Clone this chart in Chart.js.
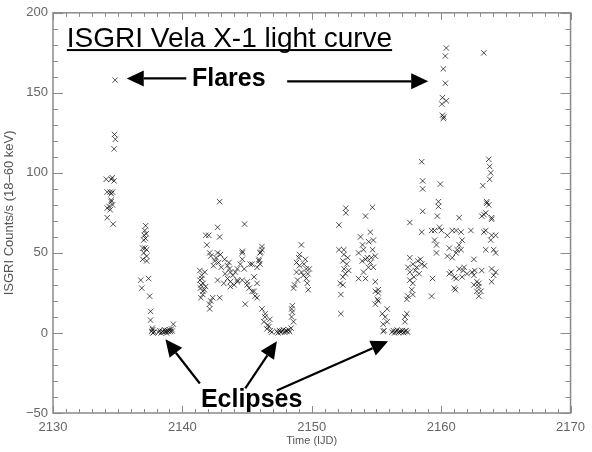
<!DOCTYPE html>
<html>
<head>
<meta charset="utf-8">
<script src="https://cdn.jsdelivr.net/npm/chart.js@4/dist/chart.umd.min.js"></script>
<style>
html,body{margin:0;padding:0;background:#fff;}
#c{display:block;}
</style>
</head>
<body>
<canvas id="c" width="592" height="452"></canvas>
<script>
// ---- Data ----
const times = [
  // flare 1
  2134.80,2134.75,2134.82,2134.72,2134.11,2134.57,2134.72,2134.50,2134.19,2134.42,2134.50,2134.60,
  2134.50,2134.60,2134.19,2134.34,2134.42,2134.19,2134.65,2134.50,
  // decline before eclipse 1
  2137.16,2137.10,2137.20,2137.05,2137.16,2137.01,2136.93,2137.24,2137.01,2137.24,2136.93,2137.24,2137.10,
  2136.78,2137.39,2136.86,2137.47,2137.54,2137.54,2137.62,2137.70,2137.80,2137.68,2137.72,
  // eclipse 1
  2138.15,2138.25,2138.35,2138.45,2138.55,2138.62,2138.70,2138.78,2138.85,2138.92,2139.00,2139.08,2139.15,2139.22,2139.30,
  // group 2141-2146
  2142.88,2142.72,2142.88,2144.80,2141.81,2142.04,2141.89,2142.11,2142.19,
  2141.35,2141.73,2141.35,2141.43,2141.58,2141.43,
  2142.72,2142.95,2143.26,2142.50,2143.49,2143.71,2142.72,2143.49,2143.71,2142.88,
  2144.25,2144.25,2144.63,2144.63,2144.78,2145.24,2145.54,2145.77,2145.01,2145.54,2145.62,
  2146.00,2146.15,2145.92,2146.00,2145.77,
  2144.63,2144.48,2143.64,2143.71,2144.25,2144.63,2145.01,2145.16,2145.39,2145.77,2145.39,2146.05,2146.15,2145.92,
  2144.86,2142.11,2142.19,2141.58,2142.34,2142.10,
  2141.50,2141.60,2141.40,2141.70,2141.50,2141.80,
  2143.00,2143.30,2143.90,2144.10,2143.60,2143.20,2144.00,
  2142.40,2142.60,2142.80,
  // ingress eclipse 2
  2146.15,2146.38,2146.30,2146.69,2146.76,2146.53,2146.40,2146.60,
  // eclipse 2
  2146.80,2146.90,2147.30,2147.40,2147.50,2147.60,2147.70,2147.80,2147.90,2148.00,2148.10,2148.20,2148.30,2148.40,
  // egress eclipse 2
  2148.44,2148.50,2148.44,2148.59,2148.50,
  // group 2149
  2149.20,2149.05,2148.82,2149.05,2149.58,2149.81,2148.82,2149.35,2149.58,2148.67,2149.73,2148.59,
  2149.00,2149.40,2149.65,2149.20,2149.50,2149.70,2148.90,
  // group 2152
  2152.10,2152.63,2152.63,2152.10,2152.48,2152.48,2152.40,2152.78,2152.86,2152.40,2152.40,2152.25,2152.25,
  2152.60,2152.70,2152.20,2152.50,
  // group 2154
  2154.15,2154.69,2154.53,2153.77,2153.92,2154.00,2154.76,2153.62,2154.15,2154.53,2154.76,2154.38,2154.91,
  2153.62,2154.15,2154.91,2154.91,2155.14,2153.90,2154.70,2154.30,2154.60,2154.00,2154.40,
  // ingress eclipse 3
  2155.14,2155.07,2155.14,2154.91,2155.83,2155.45,2155.68,2155.83,2155.52,2155.52,2155.60,
  // eclipse 3
  2156.20,2156.30,2156.40,2156.50,2156.60,2156.70,2156.80,2156.90,2157.00,2157.10,2157.20,2157.30,2157.40,
  2157.20,2157.20,2157.35,
  // group 2158
  2157.58,2158.57,2158.50,2157.58,2158.19,2157.81,2158.11,2158.50,2157.43,2157.58,2158.72,2159.33,
  2157.58,2157.81,2157.73,2157.81,2157.43,2157.35,2159.26,2158.50,2158.57,2158.57,2159.26,
  2158.00,2158.30,2157.90,2158.40,
  // flare 2
  2160.40,2160.32,2160.17,2160.32,2160.10,2160.40,2160.10,2160.17,2159.94,2159.79,2159.79,2159.71,
  2159.87,2159.49,2160.02,2159.64,2159.49,2159.64,2160.05,2160.20,
  // group 2161-2163
  2163.30,2161.39,2160.86,2161.16,2160.48,2161.54,2161.62,2162.30,2160.63,2161.39,2161.24,2161.54,
  2160.48,2160.86,2161.16,2162.53,2160.63,2161.01,2161.62,2161.39,2161.77,2162.38,2162.53,2162.76,
  2162.53,2162.91,2162.76,2162.91,2161.01,2161.10,2162.91,2163.07,2161.70,2162.00,2160.78,2161.16,
  2162.60,2163.14,
  // group 2164
  2163.68,2163.75,2163.83,2163.75,2163.22,2163.52,2163.68,2163.45,2163.14,2163.90,2163.30,2163.45,
  2163.30,2163.90,2164.21,2163.83,2163.45,2164.06,2164.21,2163.90,2164.21,2164.06,2163.90,2163.52,2163.90
];
const counts = [
  // flare 1
  158,124,121,115,96,97,95,96,88,88,87,88,
  82,80,78,79,77,72,68,83,
  // decline before eclipse 1
  67,64,62,61,59,58,53,52,50,48,46,45,53,
  33,34,28,23,13.5,8,1,2,0.5,3,0,
  // eclipse 1
  0.5,1.5,0,1,0.5,2,1,0,1.5,0.8,2,1,2.5,1.2,5.5,
  // group 2141-2146
  82,66,60,68,61,61,55,50,48,
  39,38,33,30,26,22,
  50,49,46,45,42,38,33,34,29,22,
  40,33,50,46,40,43,35,31,30,26,23,
  50,52,46,43,41,
  51,43,40,32,32,33,32,28,26,22,43,50.5,54,45,
  18,15,20,24,22,18,
  36,31,28,27,34,29,
  41,37,36,38,44,31,30,
  42,47,44,
  // ingress eclipse 2
  15,10,7,4,8.5,2.5,12,5,
  // eclipse 2
  1.5,0.5,1,0,1.5,0.5,1,2,0.5,1.5,1,2,0.8,3,
  // egress eclipse 2
  15,13,10,7,17,
  // group 2149
  55,49,44,42,40,40,38,36,34,30,27,28,
  47,43,31,38,46,37,33,
  // group 2152
  67.5,78,75,52,52,49,45,47,39,35,30,24,12,
  37,43,31,40,
  // group 2154
  73,78.5,63,60,55,52,58,50,46,44,41,41,48,
  34,34,32,26,27,45,52,47,47,38,57,
  // ingress eclipse 3
  25,21,20,18,15,12,10,7,5.5,1,1.5,
  // eclipse 3
  0.5,1.5,0,1,1.8,0.3,1.2,0.6,1.5,0.2,1,1.5,0.5,
  10,7,12,
  // group 2158
  69,76,63,47,45,43,41,43,41,38,42,34,
  33,31,27,24,23,21,23,107,95,90,64,
  39,37,35,46,
  // flare 2
  178,173,165,156,147,145,136,134,93,82,79,73,
  66,64,64,55,58,50,143,135,
  // group 2161-2163
  175,72,64,64,61,63,58,64,53,55,52,52,
  48,47,50,46,37,35,35,40,41,38,36,32,
  30,29,26,23,28,27,31,26,39,37,38,34,
  39,39,
  // group 2164
  108.5,104,100,96,92,82,80,75,73,71,74,64,
  63,61,61,58,52,52,50,40,38,36,32,81,72
];

// axis tick settings
const xMin = 2130, xMax = 2170, xMajor = 10, xMinor = 1;
const yMin = -50, yMax = 200, yMajor = 50, yMinor = 10;

// annotations (data coordinates)
const titleText = 'ISGRI Vela X-1 light curve';
const titlePos = [2131.07, 178.6];
const flaresText = 'Flares';
const flaresPos = [2140.74, 154.0];
const flareArrows = [[2140.3, 159.0, 2135.7, 159.0], [2148.1, 157.2, 2159.0, 157.2]];
const eclipsesText = 'Eclipses';
const eclipsesPos = [2141.43, -46.3];
const eclipseArrows = [[2141.35, -31.6, 2138.69, -4.0], [2144.86, -34.6, 2147.3, -5.2], [2147.3, -35.9, 2155.9, -5.2]];

const points = times.map((t, i) => ({x: t, y: counts[i]}));

function arrow(ctx, x1, y1, x2, y2) {
  const ang = Math.atan2(y2 - y1, x2 - x1);
  const hl = 17, hw = 8;
  const bx = x2 - hl * Math.cos(ang), by = y2 - hl * Math.sin(ang);
  ctx.beginPath();
  ctx.moveTo(x1, y1);
  ctx.lineTo(bx, by);
  ctx.stroke();
  ctx.beginPath();
  ctx.moveTo(x2, y2);
  ctx.lineTo(bx + hw * Math.sin(ang), by - hw * Math.cos(ang));
  ctx.lineTo(bx - hw * Math.sin(ang), by + hw * Math.cos(ang));
  ctx.closePath();
  ctx.fill();
}

const framePlugin = {
  id: 'frame',
  afterDraw(chart) {
    const {ctx, chartArea: a, scales: {x, y}} = chart;
    ctx.save();
    ctx.strokeStyle = '#8a8a8a';
    ctx.lineWidth = 1.5;
    ctx.strokeRect(a.left, a.top, a.right - a.left, a.bottom - a.top);
    ctx.lineWidth = 1;
    ctx.beginPath();
    for (let v = xMin; v <= xMax + 1e-9; v += xMinor) {
      const px = Math.round(x.getPixelForValue(v)) + 0.5;
      const major = Math.abs(v / xMajor - Math.round(v / xMajor)) < 1e-6;
      const len = major ? 7 : 4;
      ctx.moveTo(px, a.bottom); ctx.lineTo(px, a.bottom - len);
      ctx.moveTo(px, a.top); ctx.lineTo(px, a.top + len);
    }
    for (let v = yMin; v <= yMax + 1e-9; v += yMinor) {
      const py = Math.round(y.getPixelForValue(v)) + 0.5;
      const major = Math.abs(v / yMajor - Math.round(v / yMajor)) < 1e-6;
      const len = major ? 10 : 5;
      ctx.moveTo(a.left, py); ctx.lineTo(a.left + len, py);
      ctx.moveTo(a.right, py); ctx.lineTo(a.right - len, py);
    }
    ctx.stroke();

    // annotations
    ctx.fillStyle = '#000';
    ctx.strokeStyle = '#000';
    ctx.textBaseline = 'alphabetic';
    ctx.textAlign = 'left';
    ctx.font = '28px "Liberation Sans", Arial, sans-serif';
    const tx = x.getPixelForValue(titlePos[0]), ty = y.getPixelForValue(titlePos[1]);
    ctx.fillText(titleText, tx, ty);
    const tw = ctx.measureText(titleText).width;
    ctx.fillRect(tx, ty + 2, tw, 2);

    ctx.font = 'bold 25px "Liberation Sans", Arial, sans-serif';
    ctx.fillText(flaresText, x.getPixelForValue(flaresPos[0]), y.getPixelForValue(flaresPos[1]));
    ctx.fillText(eclipsesText, x.getPixelForValue(eclipsesPos[0]), y.getPixelForValue(eclipsesPos[1]));

    ctx.lineWidth = 2.2;
    [...flareArrows, ...eclipseArrows].forEach(([a1, b1, a2, b2]) => {
      arrow(ctx, x.getPixelForValue(a1), y.getPixelForValue(b1), x.getPixelForValue(a2), y.getPixelForValue(b2));
    });
    ctx.restore();
  }
};

const tickFont = {family: '"Liberation Sans", Arial, sans-serif', size: 13};
const titleFont = {family: '"Liberation Sans", Arial, sans-serif', size: 11};
const yTitleFont = {family: '"Liberation Sans", Arial, sans-serif', size: 13};

new Chart(document.getElementById('c'), {
  type: 'scatter',
  data: {
    datasets: [{
      data: points,
      pointStyle: 'crossRot',
      pointRadius: 3.8,
      pointHoverRadius: 3.8,
      borderColor: 'rgba(0,0,0,0.68)',
      backgroundColor: 'rgba(0,0,0,0)',
      borderWidth: 1
    }]
  },
  options: {
    responsive: false,
    animation: false,
    events: [],
    layout: {padding: {top: 5, right: 14, left: 0, bottom: 0}},
    plugins: {legend: {display: false}, tooltip: {enabled: false}},
    scales: {
      x: {
        type: 'linear', min: xMin, max: xMax,
        ticks: {stepSize: xMajor, color: '#666', font: tickFont, padding: 7, maxRotation: 0, autoSkip: false,
                callback: v => String(v)},
        grid: {display: false, drawTicks: false},
        border: {display: false},
        title: {display: true, text: 'Time (IJD)', color: '#555', font: titleFont, padding: {top: 0, bottom: 4}},
        afterFit: s => { s.height = 39; }
      },
      y: {
        type: 'linear', min: yMin, max: yMax,
        ticks: {stepSize: yMajor, color: '#666', font: tickFont, padding: 5, callback: v => v < 0 ? '\u2212' + Math.abs(v) : String(v)},
        grid: {display: false, drawTicks: false},
        border: {display: false},
        title: {display: true, text: 'ISGRI Counts/s (18\u201360 keV)', color: '#555', font: yTitleFont, padding: {top: 2, bottom: 4}},
        afterFit: s => { s.width = 53; }
      }
    }
  },
  plugins: [framePlugin]
});
</script>
</body>
</html>
